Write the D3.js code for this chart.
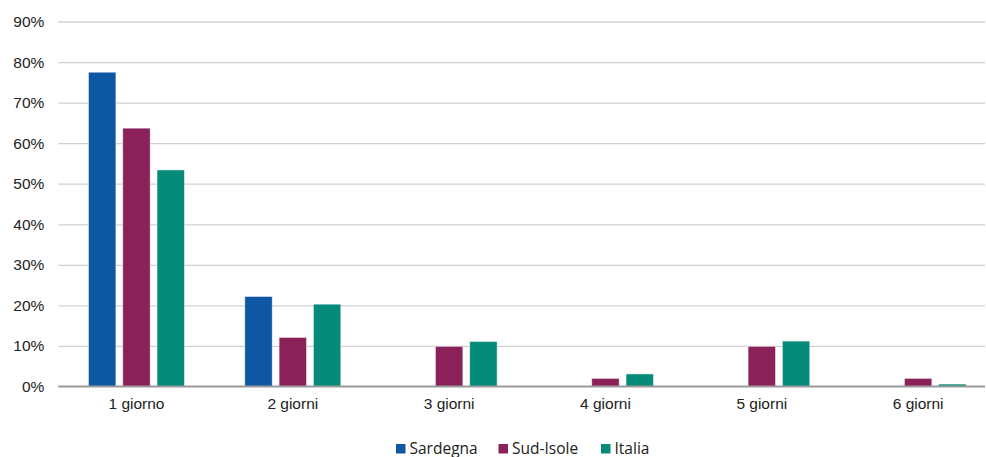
<!DOCTYPE html>
<html>
<head>
<meta charset="utf-8">
<script src="https://cdn.jsdelivr.net/npm/d3@7"></script>
<style>
  html, body { margin: 0; padding: 0; background: #fff; }
  svg { display: block; font-family: "Open Sans", "Noto Sans", sans-serif; }
</style>
</head>
<body>
<svg id="chart" width="986" height="457"></svg>
<script>
// Durata del soggiorno: quota percentuale per numero di giorni
const categories = ["1 giorno", "2 giorni", "3 giorni", "4 giorni", "5 giorni", "6 giorni"];
const seriesNames = ["Sardegna", "Sud-Isole", "Italia"];
const sardegna = [77.5, 22.2, 0, 0, 0, 0];
const sudIsole = [63.7, 12.1, 9.9, 2.0, 9.9, 2.0];
const italia   = [53.4, 20.3, 11.1, 3.1, 11.2, 0.6];
const yTicks = [0, 10, 20, 30, 40, 50, 60, 70, 80, 90];
const colors = ["#0e57a3", "#8a2259", "#068b7b"];

const seriesValues = [sardegna, sudIsole, italia];

const svg = d3.select("#chart");
const width = 986, height = 457;
const plotLeft = 58.3, plotRight = 996.3, gridRight = 985;
const plotTop = 21.5, plotBottom = 386.5;
const fontSize = "15.5px";

const x = d3.scaleBand()
  .domain(categories)
  .range([plotLeft, plotRight])
  .paddingInner(0)
  .paddingOuter(0);

const xInner = d3.scaleBand()
  .domain(seriesNames)
  .range([0, x.bandwidth()])
  .paddingInner(0.2)
  .paddingOuter(0.88);

const y = d3.scaleLinear()
  .domain([0, 90])
  .range([plotBottom, plotTop]);

// griglia orizzontale ed etichette dell'asse Y
const yAxis = d3.axisLeft(y)
  .tickValues(yTicks)
  .tickFormat(d => d + "%")
  .tickSize(-(gridRight - plotLeft))
  .tickPadding(14);

const gy = svg.append("g")
  .attr("transform", `translate(${plotLeft},0)`)
  .call(yAxis);
gy.select(".domain").remove();
gy.selectAll(".tick line").attr("stroke", "#d0d0d0").attr("stroke-width", 1.3);
gy.selectAll(".tick text")
  .attr("fill", "#222")
  .style("font-size", fontSize);
gy.selectAll(".tick").filter(d => d === 0).select("line").remove();

// barre
const groups = svg.append("g")
  .selectAll("g")
  .data(categories)
  .join("g")
  .attr("transform", d => `translate(${x(d)},0)`);

groups.selectAll("rect")
  .data((c, i) => seriesNames.map((s, k) => ({ s, k, v: seriesValues[k][i] })))
  .join("rect")
  .filter(d => d.v > 0)
  .attr("x", d => xInner(d.s))
  .attr("width", xInner.bandwidth())
  .attr("y", d => y(d.v))
  .attr("height", d => y(0) - y(d.v))
  .attr("fill", d => colors[d.k])
  .attr("stroke", "#ffffff")
  .attr("stroke-opacity", 0.6)
  .attr("stroke-width", 0.8);

// asse X
const xAxis = d3.axisBottom(x).tickSize(0).tickPadding(11);
const gx = svg.append("g")
  .attr("transform", `translate(0,${y(0)})`)
  .call(xAxis);
gx.select(".domain")
  .attr("d", `M${plotLeft},0H${gridRight}`)
  .attr("stroke", "#9a9a9a").attr("stroke-width", 2);
gx.selectAll(".tick text")
  .attr("fill", "#222")
  .style("font-size", fontSize);

// legenda
const legendItems = [
  { name: "Sardegna", x: 396 },
  { name: "Sud-Isole", x: 498.5 },
  { name: "Italia", x: 601 }
];
const legend = svg.append("g");
legendItems.forEach((it, k) => {
  legend.append("rect")
    .attr("x", it.x).attr("y", 444)
    .attr("width", 9.5).attr("height", 9.5)
    .attr("fill", colors[k]);
  legend.append("text")
    .attr("x", it.x + 13.5).attr("y", 453.5)
    .attr("fill", "#222")
    .style("font-size", fontSize)
    .text(it.name);
});
</script>
</body>
</html>
